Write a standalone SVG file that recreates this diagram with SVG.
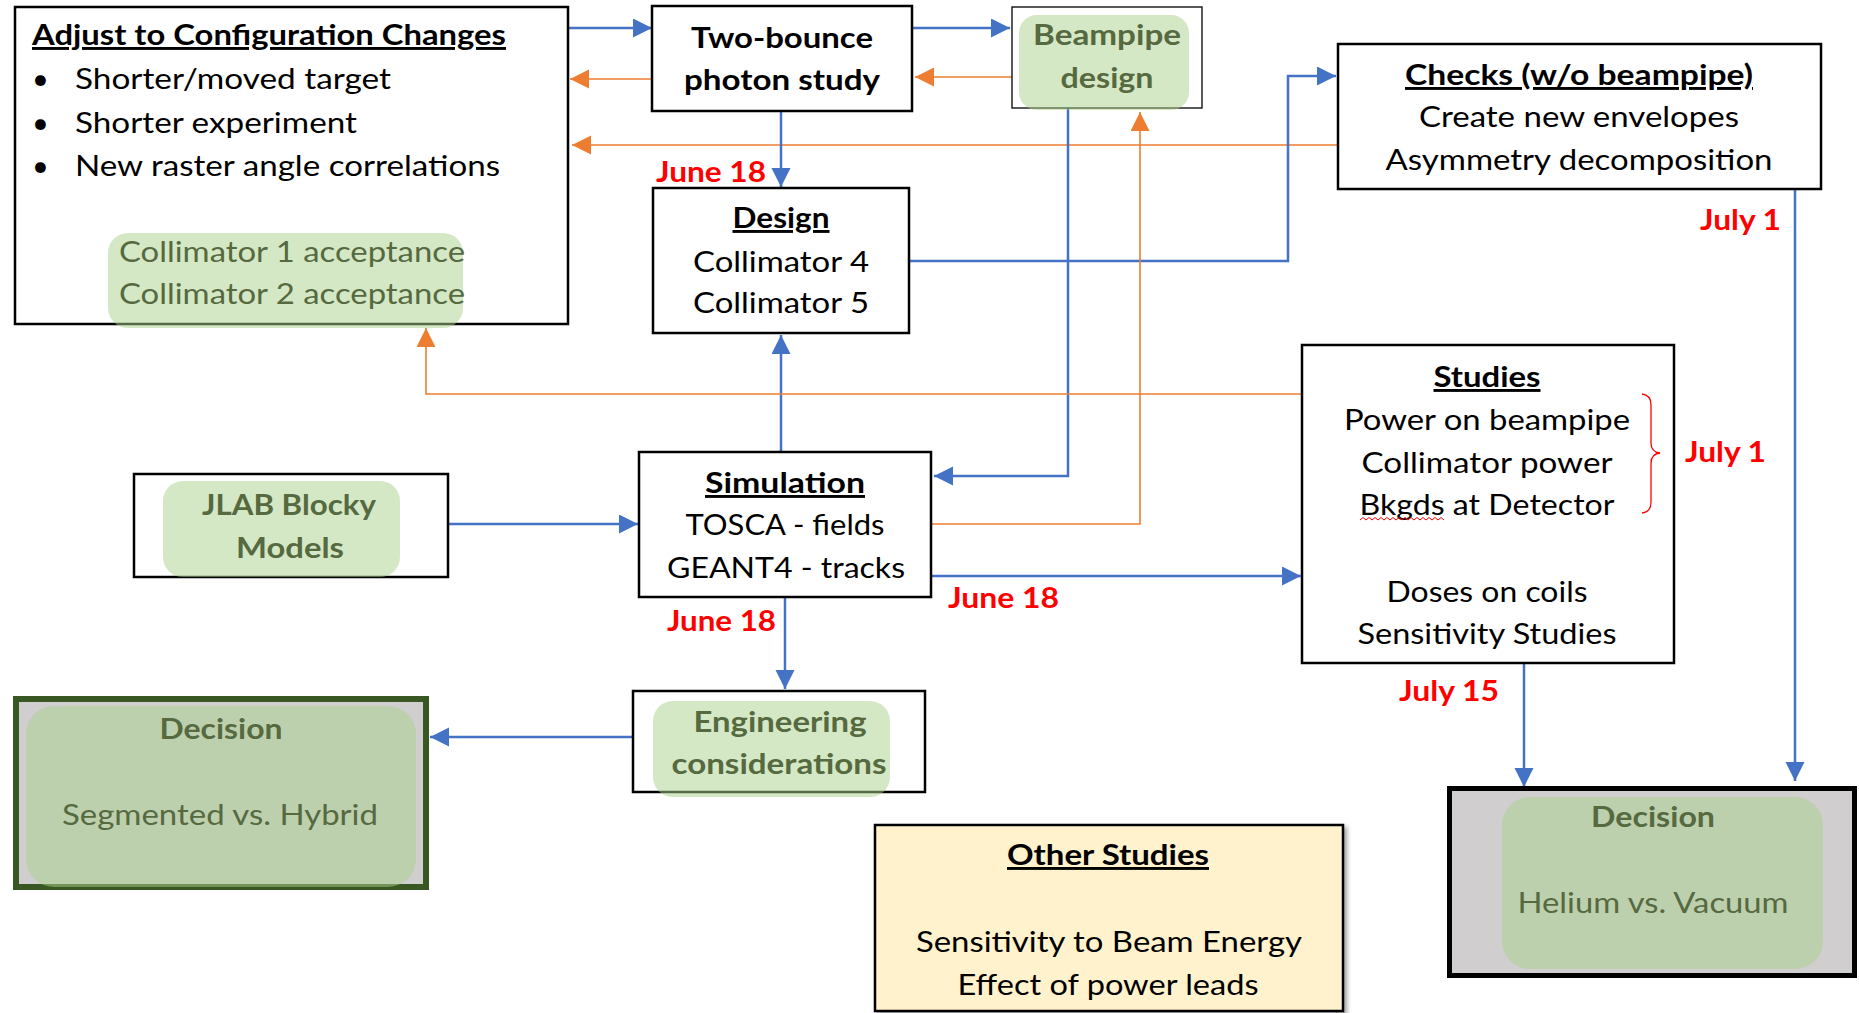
<svg xmlns="http://www.w3.org/2000/svg" width="1859" height="1013" viewBox="0 0 1859 1013">
<style>
text{font-family:Lato,"Liberation Sans",sans-serif;font-size:29px;fill:#000}
.b{font-weight:bold}
.u{text-decoration:underline}
.c{text-anchor:middle}
.g{fill:#56693f}
.r{fill:#ff0000;font-weight:bold}
.box{fill:#fff;stroke:#000;stroke-width:2.5}
.gr{fill:#a9d18e;fill-opacity:0.5}
.bl{fill:none;stroke:#4472c4;stroke-width:2.5}
.or{fill:none;stroke:#ed7d31;stroke-width:1.6}
</style>
<defs>
<marker id="ab" markerUnits="userSpaceOnUse" markerWidth="20" markerHeight="20" refX="19" refY="9.5" orient="auto"><path d="M0,0 L19,9.5 L0,19 z" fill="#4472c4"/></marker>
<marker id="ao" markerUnits="userSpaceOnUse" markerWidth="20" markerHeight="20" refX="19" refY="9.5" orient="auto"><path d="M0,0 L19,9.5 L0,19 z" fill="#ed7d31"/></marker>
<filter id="sh" x="-5%" y="-5%" width="115%" height="115%"><feDropShadow dx="3" dy="3" stdDeviation="2" flood-color="#000" flood-opacity="0.35"/></filter>
</defs>
<rect width="1859" height="1013" fill="#fff"/>

<g id="connectors">
<path class="bl" d="M568,28 H652" marker-end="url(#ab)"/>
<path class="bl" d="M912,28 H1010" marker-end="url(#ab)"/>
<path class="or" d="M652,79 H570" marker-end="url(#ao)"/>
<path class="or" d="M1012,77 H915" marker-end="url(#ao)"/>
<path class="or" d="M1338,145 H572" marker-end="url(#ao)"/>
<path class="bl" d="M781,111 V187" marker-end="url(#ab)"/>
<path class="bl" d="M909,261 H1288 V76 H1336" marker-end="url(#ab)"/>
<path class="bl" d="M1068,108 V476 H934" marker-end="url(#ab)"/>
<path class="or" d="M931,524 H1140 V112" marker-end="url(#ao)"/>
<path class="bl" d="M781,452 V335" marker-end="url(#ab)"/>
<path class="or" d="M1302,394 H426 V328" marker-end="url(#ao)"/>
<path class="bl" d="M448,524 H638" marker-end="url(#ab)"/>
<path class="bl" d="M931,576 H1301" marker-end="url(#ab)"/>
<path class="bl" d="M785,597 V689" marker-end="url(#ab)"/>
<path class="bl" d="M633,737 H430" marker-end="url(#ab)"/>
<path class="bl" d="M1524,663 V787" marker-end="url(#ab)"/>
<path class="bl" d="M1795,189 V781" marker-end="url(#ab)"/>
</g>

<g id="adjust">
<rect class="box" x="15" y="7" width="553" height="317"/>
<text class="b u" x="32" y="45" textLength="474" lengthAdjust="spacingAndGlyphs">Adjust to Configuration Changes</text>
<text x="32" y="89">•</text>
<text x="32" y="133">•</text>
<text x="32" y="176">•</text>
<text x="75" y="89" textLength="316" lengthAdjust="spacingAndGlyphs">Shorter/moved target</text>
<text x="75" y="133" textLength="282" lengthAdjust="spacingAndGlyphs">Shorter experiment</text>
<text x="75" y="176" textLength="425" lengthAdjust="spacingAndGlyphs">New raster angle correlations</text>
<rect class="gr" x="108" y="233" width="355" height="95" rx="20"/>
<text class="g" x="119" y="262" textLength="346" lengthAdjust="spacingAndGlyphs">Collimator 1 acceptance</text>
<text class="g" x="119" y="304" textLength="346" lengthAdjust="spacingAndGlyphs">Collimator 2 acceptance</text>
</g>

<g id="twobounce">
<rect class="box" x="652" y="6" width="260" height="105"/>
<text class="b c" x="782" y="48" textLength="182" lengthAdjust="spacingAndGlyphs">Two-bounce</text>
<text class="b c" x="782" y="90" textLength="196" lengthAdjust="spacingAndGlyphs">photon study</text>
</g>

<g id="beampipe">
<rect x="1012" y="7" width="190" height="101" fill="#fff" stroke="#000" stroke-width="1.3"/>
<rect class="gr" x="1019" y="15" width="170" height="95" rx="18"/>
<text class="b c g" x="1107" y="45" textLength="148" lengthAdjust="spacingAndGlyphs">Beampipe</text>
<text class="b c g" x="1107" y="88" textLength="93" lengthAdjust="spacingAndGlyphs">design</text>
</g>

<g id="checks">
<rect class="box" x="1338" y="44" width="483" height="145"/>
<text class="b u c" x="1579" y="85" textLength="348" lengthAdjust="spacingAndGlyphs">Checks (w/o beampipe)</text>
<text class="c" x="1579" y="127" textLength="320" lengthAdjust="spacingAndGlyphs">Create new envelopes</text>
<text class="c" x="1579" y="170" textLength="387" lengthAdjust="spacingAndGlyphs">Asymmetry decomposition</text>
</g>

<g id="design">
<rect class="box" x="653" y="188" width="256" height="145"/>
<text class="b u c" x="781" y="228" textLength="97" lengthAdjust="spacingAndGlyphs">Design</text>
<text class="c" x="781" y="272" textLength="176" lengthAdjust="spacingAndGlyphs">Collimator 4</text>
<text class="c" x="781" y="313" textLength="176" lengthAdjust="spacingAndGlyphs">Collimator 5</text>
</g>

<g id="studies">
<rect class="box" x="1302" y="345" width="372" height="318"/>
<text class="b u c" x="1487" y="387" textLength="107" lengthAdjust="spacingAndGlyphs">Studies</text>
<text class="c" x="1487" y="430" textLength="286" lengthAdjust="spacingAndGlyphs">Power on beampipe</text>
<text class="c" x="1487" y="473" textLength="251" lengthAdjust="spacingAndGlyphs">Collimator power</text>
<text class="c" x="1487" y="515" textLength="255" lengthAdjust="spacingAndGlyphs">Bkgds at Detector</text>
<path d="M1360,520 l3,-2.5 l3,2.5 l3,-2.5 l3,2.5 l3,-2.5 l3,2.5 l3,-2.5 l3,2.5 l3,-2.5 l3,2.5 l3,-2.5 l3,2.5 l3,-2.5 l3,2.5 l3,-2.5 l3,2.5 l3,-2.5 l3,2.5 l3,-2.5 l3,2.5 l3,-2.5 l3,2.5 l3,-2.5 l3,2.5 l3,-2.5 l3,2.5 l3,-2.5 l3,2.5" fill="none" stroke="#ff0000" stroke-width="1"/>
<text class="c" x="1487" y="602" textLength="201" lengthAdjust="spacingAndGlyphs">Doses on coils</text>
<text class="c" x="1487" y="644" textLength="259" lengthAdjust="spacingAndGlyphs">Sensitivity Studies</text>
</g>

<g id="brace">
<path d="M1642,394 Q1651,395 1651,405 V443 Q1651,452 1660,453 Q1651,454 1651,463 V502 Q1651,512 1642,513" fill="none" stroke="#ff0000" stroke-width="1.3"/>
</g>

<g id="jlab">
<rect class="box" x="134" y="474" width="314" height="103"/>
<rect class="gr" x="163" y="481" width="237" height="96" rx="20"/>
<text class="b c g" x="289" y="515" textLength="174" lengthAdjust="spacingAndGlyphs">JLAB Blocky</text>
<text class="b c g" x="290" y="558" textLength="108" lengthAdjust="spacingAndGlyphs">Models</text>
</g>

<g id="simulation">
<rect class="box" x="639" y="452" width="292" height="145"/>
<text class="b u c" x="785" y="493" textLength="160" lengthAdjust="spacingAndGlyphs">Simulation</text>
<text class="c" x="785" y="535" textLength="199" lengthAdjust="spacingAndGlyphs">TOSCA - fields</text>
<text class="c" x="786" y="578" textLength="238" lengthAdjust="spacingAndGlyphs">GEANT4  - tracks</text>
</g>

<g id="engineering">
<rect class="box" x="633" y="691" width="292" height="101"/>
<rect class="gr" x="653" y="701" width="237" height="96" rx="20"/>
<text class="b c g" x="780" y="732" textLength="173" lengthAdjust="spacingAndGlyphs">Engineering</text>
<text class="b c g" x="779" y="774" textLength="215" lengthAdjust="spacingAndGlyphs">considerations</text>
</g>

<g id="decision-left">
<rect x="16" y="699" width="410" height="188" fill="#d0cece" stroke="#385723" stroke-width="6"/>
<rect class="gr" x="26" y="706" width="390" height="181" rx="28"/>
<text class="b c g" x="221" y="739" textLength="123" lengthAdjust="spacingAndGlyphs">Decision</text>
<text class="c g" x="220" y="825" textLength="316" lengthAdjust="spacingAndGlyphs">Segmented vs. Hybrid</text>
</g>

<g id="decision-right">
<rect x="1449.5" y="788.5" width="405" height="187" fill="#d0cece" stroke="#000" stroke-width="5"/>
<rect class="gr" x="1502" y="797" width="321" height="172" rx="28"/>
<text class="b c g" x="1653" y="827" textLength="124" lengthAdjust="spacingAndGlyphs">Decision</text>
<text class="c g" x="1653" y="913" textLength="271" lengthAdjust="spacingAndGlyphs">Helium vs. Vacuum</text>
</g>

<g id="other-studies">
<rect x="875" y="825" width="468" height="186" fill="#fff2cc" stroke="#000" stroke-width="2.5" filter="url(#sh)"/>
<text class="b u c" x="1108" y="865" textLength="202" lengthAdjust="spacingAndGlyphs">Other Studies</text>
<text class="c" x="1109" y="952" textLength="386" lengthAdjust="spacingAndGlyphs">Sensitivity to Beam Energy</text>
<text class="c" x="1108" y="995" textLength="301" lengthAdjust="spacingAndGlyphs">Effect of power leads</text>
</g>

<g id="dates">
<text class="r" x="656" y="182" textLength="110" lengthAdjust="spacingAndGlyphs">June 18</text>
<text class="r" x="948" y="608" textLength="111" lengthAdjust="spacingAndGlyphs">June 18</text>
<text class="r" x="667" y="631" textLength="109" lengthAdjust="spacingAndGlyphs">June 18</text>
<text class="r" x="1700" y="230" textLength="81" lengthAdjust="spacingAndGlyphs">July 1</text>
<text class="r" x="1685" y="462" textLength="81" lengthAdjust="spacingAndGlyphs">July 1</text>
<text class="r" x="1399" y="701" textLength="100" lengthAdjust="spacingAndGlyphs">July 15</text>
</g>
</svg>
